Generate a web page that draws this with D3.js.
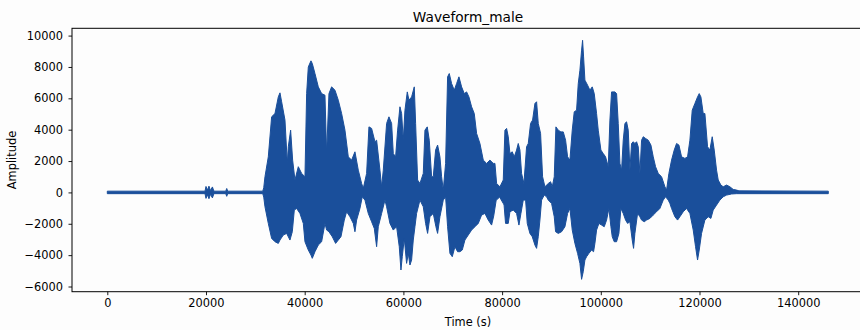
<!DOCTYPE html>
<html>
<head>
<meta charset="utf-8">
<script src="https://cdn.jsdelivr.net/npm/d3@7"></script>
<style>
  body { margin: 0; background: #fdfdfd; }
  text { font-family: "DejaVu Sans", sans-serif; fill: #000; }
</style>
</head>
<body>
<div id="chart"></div>
<script>
// envelope of the waveform (sample index, amplitude)
var upperT = [0, 19800, 20000, 20300, 20600, 20900, 21300, 21600, 24000, 24200, 24400, 31500, 31700,
  31950, 32625, 33300, 33976, 34651, 34989, 35326, 36002, 36474, 36677, 37150, 37555, 38028, 38703, 39378, 40054,
  40391, 40729, 41269, 41539, 42079, 42755, 43430, 44105, 44443, 44916, 45456, 46131, 46807, 47482, 48157, 48832,
  49508, 50183, 50858, 51534, 51871, 52547, 53019, 53560, 54235, 54574, 55249, 55587, 55924, 56600, 57072, 57613,
  57950, 58423, 58828, 59301, 59638, 59976, 60314, 60787, 61124, 61664, 62205, 62475, 62880, 63352, 64028, 64366,
  64838, 65243, 65716, 66054, 66526, 66931, 67404, 67742, 68080, 68552, 68957, 69295, 69768, 70308, 70781, 71254,
  71794, 72334, 72807, 73280, 73820, 74360, 74833, 75508, 76184, 76859, 77534, 78210,
  78548, 78886, 79561, 80236, 80574, 80912, 81249, 81587, 82060, 82465, 82937, 83275, 83613, 83950, 84423, 84963,
  85301, 85774, 86179, 86652, 86989, 87327, 87800, 88205, 88678, 89353, 89826, 90163, 90568, 90906, 91379, 91919,
  92392, 92864, 93270, 93742, 94215, 94620, 95093, 95431, 95768, 96106, 96309, 96511, 96781, 97321, 97794, 98267,
  98672, 99145, 99482, 100022, 100495, 100968, 101508, 101846, 102184, 102859,
  103198, 103535, 103873, 104211, 104548, 104886, 105224, 105561, 105899, 106237, 106574, 106912, 107249, 107587,
  107925, 108262, 108600, 109073, 109613, 110153, 110626, 111099, 111639, 112314, 112990, 113327, 113800, 114340,
  114880, 115353, 115826, 116366, 117041, 117582, 118054, 118527, 119067, 119607, 119945, 120283, 120755, 121093,
  121633, 122106, 122579, 122984, 123457, 123794, 124334, 124807, 125482, 126158, 126833, 127508, 128000, 146100];
var upperA = [80, 80, 380, 150, 400, 120, 350, 80, 80, 250, 80, 80, 300,
  1000, 2270, 4820, 5030, 6090, 6350, 5780, 4610, 1850, 2910, 3970, 2060, 790, 1640, 1210, 1000,
  6300, 8000, 8390, 8220, 7580, 6730, 6300, 6200, 2480, 6300, 6730, 6520, 5880, 5030, 3970, 2270,
  2060, 2590, 1420, 570, 260, 1210, 4180, 4080, 3230, 3330, 1420, 360, 1420, 4400, 4820, 4400,
  2480, 2270, 3970, 5460, 5030, 3330, 5240, 6410, 5880, 6090, 6730, 4400, 790, 570, 1210, 3970,
  4180, 3330, 1000, 1000, 2700, 3020, 2270, 1000, 150, 1850, 7370, 7580, 6940, 6520, 6940, 7370,
  6730, 6300, 6410, 6090, 5460, 5030, 3760, 3120, 2060, 1850, 2060, 1850,
  1850, 570, 360, 790, 3970, 4080, 3550, 2480, 2590, 2270, 2700, 3120, 2700, 1210, 570, 2910,
  3120, 4400, 4610, 5670, 5780, 4400, 3760, 1000, 360, 570, 680, 360, 1000, 4180, 3970, 3860,
  3860, 3330, 2270, 2060, 3970, 5140, 5240, 6940, 7790, 9070, 9700, 8640, 7160, 6840, 6520, 6730,
  6300, 5030, 3970, 2700, 2480, 2270, 1640, 4610, 6410, 6410,
  6300, 4400, 1850, 1420, 3330, 4400, 4500, 3970, 1420, 3120, 3230, 3120, 3230, 2910,
  1210, 3330, 3550, 3440, 3330, 3020, 2270, 1640, 1210, 1000, 360, 150, 1210, 2060,
  2700, 3120, 3020, 2270, 2170, 2270, 3330, 5240, 5670, 6090, 6300, 6090, 5030, 5030,
  2910, 2700, 3550, 2700, 1420, 790, 470, 360, 470, 360, 190, 150, 100, 80];

var lowerT = [0, 19800, 20000, 20300, 20600, 20900, 21300, 21600, 24000, 24200,
  24400, 31500, 31700, 31950, 32625, 33300, 33976, 34651, 34989, 35664,
  36339, 37015, 37488, 37893, 38365, 39040, 39716, 40054, 40729, 41269,
  41539, 42079, 42755, 43430, 44105, 44443, 44916, 45591, 46266, 46807,
  47347, 48022, 48495, 49170, 49845, 50183, 50521, 51196, 51669, 52209,
  52884, 53560, 54100, 54573, 54910, 55585, 56261, 56598, 57274, 57949,
  58624, 59164, 59502, 59772, 60177, 60650, 60988, 61325, 61663, 62001,
  62338, 62676, 63351, 64027, 64499, 64905, 65378, 66053, 66593, 66931,
  67404, 68079, 68552, 68957, 69430, 69903, 70442, 70983, 71455, 71928,
  72468, 73143, 73819, 74494, 75169, 75845, 76520, 77195, 77871, 78300,
  78800, 79500, 80236, 80400, 80700, 81249, 81587, 82262, 82937, 83410,
  83815, 84288, 84761, 85098, 85639, 86111, 86652, 86989, 87327, 87665,
  88002, 88542, 89015, 89353, 90028, 90568, 90838, 91379, 92054, 92729,
  93270, 93742, 94215, 94755, 95295, 95768, 96106, 96443, 96781, 97119,
  97591, 98132, 98537, 98807, 99145, 99617, 100158, 100698, 101171, 101644,
  102049, 102319, 102724, 103196, 103669, 104074, 104547, 105020, 105425, 105898,
  106370, 106640, 106911, 107451, 107924, 108261, 108801, 109274, 109949, 110625,
  111300, 111975, 112651, 113124, 113664, 114002, 114339, 115015, 115555, 116028,
  116703, 117378, 118054, 118729, 119201, 119607, 119944, 120417, 121092, 121767,
  122308, 122780, 123456, 124131, 124806, 125481, 126494, 127507, 146100];
var lowerA = [-80, -80, -380, -150, -400, -120, -350, -80, -80, -250,
  -80, -80, -300, -915, -1976, -2931, -3144, -3250, -3037, -2719,
  -2613, -3037, -2507, -1127, -1021, -1339, -1976, -3144, -3674, -3993,
  -4205, -3780, -3356, -3144, -1976, -2400, -2507, -2825, -3250, -3037,
  -2825, -1763, -1233, -1551, -1976, -2507, -1763, -1021, -278, -490,
  -1339, -1870, -2294, -3462, -2188, -1339, -490, -915, -1976, -2400,
  -2188, -3462, -4948, -4099, -2931, -4524, -3887, -4630, -4312, -3037,
  -2188, -1339, -490, -915, -1976, -2613, -1551, -1339, -2188, -2613,
  -1551, -490, -278, -2188, -3887, -4099, -3462, -3780, -3780, -3674,
  -3037, -2719, -2400, -2188, -1976, -1445, -1339, -1763, -2082, -1500,
  -500, -300, -700, -800, -1976, -1976, -1233, -1127, -1339, -2082,
  -1339, -490, -490, -1976, -2613, -2825, -3356, -3568, -2825, -1763,
  -490, -171, -278, -490, -702, -1551, -2507, -2613, -2507, -2188,
  -1339, -1021, -2400, -3250, -3887, -4524, -5543, -5054, -4311, -4099,
  -3887, -3674, -3780, -3250, -2400, -1976, -2082, -2188, -1763, -1021,
  -2188, -2825, -3144, -3144, -2613, -1021, -1339, -1763, -1976, -1870,
  -3037, -3568, -2613, -1339, -1551, -1763, -1870, -1763, -1657, -1445,
  -1233, -1021, -490, -278, -490, -702, -1021, -1551, -1763, -1551,
  -1233, -1021, -1339, -2400, -3462, -4311, -3674, -2613, -1763, -1551,
  -1657, -1127, -808, -490, -278, -171, -100, -80, -80];

var xTicks = [0, 20000, 40000, 60000, 80000, 100000, 120000, 140000];
var yTicks = [-6000, -4000, -2000, 0, 2000, 4000, 6000, 8000, 10000];

var width = 860,
    height = 330,
    plotLeft = 72, plotRight = 864, plotTop = 28.3, plotBottom = 291.7,
    blue = "#1a4f9b";

var svg = d3.select("#chart")
    .append("svg")
    .attr("width", width)
    .attr("height", height)
    .style("background", "#fdfdfd");

var x = d3.scaleLinear().domain([-7153, 153334]).range([plotLeft, plotRight]);
var y = d3.scaleLinear().domain([-6331, 10465]).range([plotBottom, plotTop]);

/* waveform envelope: top edge left to right, bottom edge back */
var pts = upperT.map(function(t, i) { return [t, upperA[i]]; });
var back = lowerT.map(function(t, i) { return [t, lowerA[i]]; }).reverse();
pts = pts.concat(back);

var line = d3.line()
    .x(function(d) { return x(d[0]); })
    .y(function(d) { return y(d[1]); });

svg.append("path")
    .attr("d", line(pts) + "Z")
    .attr("fill", blue)
    .attr("stroke", blue)
    .attr("stroke-width", 1)
    .attr("stroke-linejoin", "round");

/* axes */
var xAxis = svg.append("g")
    .attr("transform", "translate(0," + plotBottom + ")")
    .call(d3.axisBottom(x).tickValues(xTicks).tickFormat(d3.format("d")).tickSize(3.5).tickPadding(4));

var yAxis = svg.append("g")
    .attr("transform", "translate(" + plotLeft + ",0)")
    .call(d3.axisLeft(y).tickValues(yTicks).tickFormat(function(d) { return d < 0 ? "\u2212" + (-d) : d; }).tickSize(3.5).tickPadding(5.5));

[xAxis, yAxis].forEach(function(a) {
  a.select(".domain").remove();
  a.selectAll("line").attr("stroke", "#000").attr("stroke-width", 0.9);
  a.selectAll("text").attr("font-size", "11.4px").attr("font-family", "DejaVu Sans").attr("fill", "#000");
});

// frame (right side falls outside the picture)
svg.append("rect")
    .attr("x", plotLeft)
    .attr("y", plotTop)
    .attr("width", plotRight - plotLeft)
    .attr("height", plotBottom - plotTop)
    .attr("fill", "none")
    .attr("stroke", "#000")
    .attr("stroke-width", 1);

svg.append("text")
    .attr("x", 468)
    .attr("y", 21.5)
    .attr("text-anchor", "middle")
    .attr("font-size", "13.7px")
    .text("Waveform_male");

svg.append("text")
    .attr("x", 468)
    .attr("y", 325.5)
    .attr("text-anchor", "middle")
    .attr("font-size", "11.4px")
    .text("Time (s)");

svg.append("text")
    .attr("transform", "translate(15.5," + ((plotTop + plotBottom) / 2) + ")rotate(-90)")
    .attr("text-anchor", "middle")
    .attr("font-size", "11.4px")
    .text("Amplitude");
</script>
</body>
</html>
